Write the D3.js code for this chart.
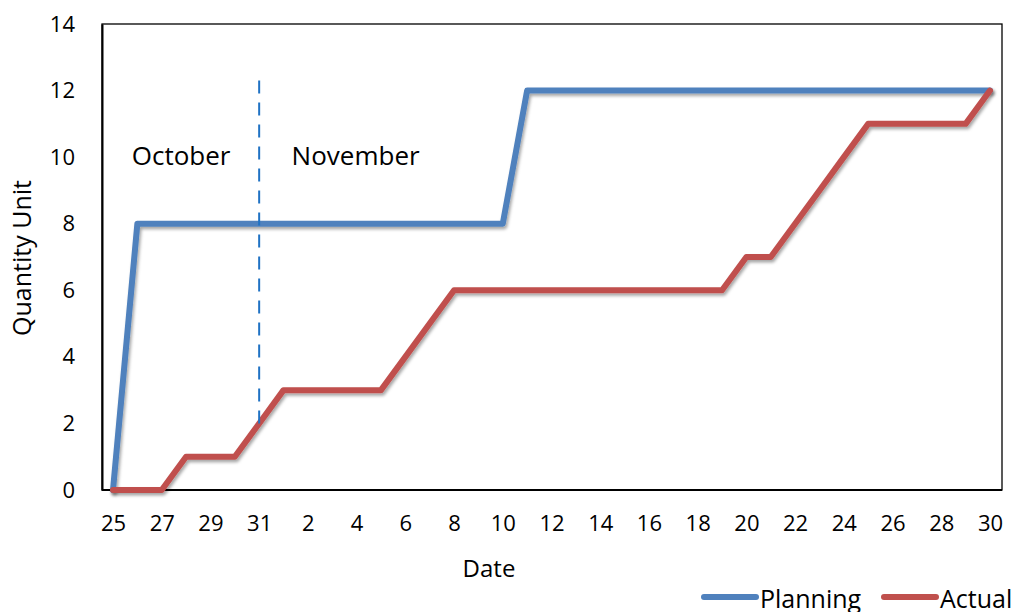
<!DOCTYPE html>
<html>
<head>
<meta charset="utf-8">
<script src="https://cdn.jsdelivr.net/npm/d3@7"></script>
<style>
  html, body { margin: 0; padding: 0; background: #fff; }
  svg { display: block; font-family: "Open Sans", "Noto Sans", sans-serif; }
</style>
</head>
<body>
<svg id="chart" width="1018" height="612"></svg>
<script>
// ---- data ----
const dates = ["10-25","10-26","10-27","10-28","10-29","10-30","10-31",
  "11-01","11-02","11-03","11-04","11-05","11-06","11-07","11-08","11-09","11-10",
  "11-11","11-12","11-13","11-14","11-15","11-16","11-17","11-18","11-19","11-20",
  "11-21","11-22","11-23","11-24","11-25","11-26","11-27","11-28","11-29","11-30"];
const planning = [0,8,8,8,8,8,8, 8,8,8,8,8,8,8,8,8,8, 12,12,12,12,12,12,12,12,12,12, 12,12,12,12,12,12,12,12,12,12];
const actual   = [0,0,0,1,1,1,2, 3,3,3,3,3,4,5,6,6,6, 6,6,6,6,6,6,6,6,6,7, 7,8,9,10,11,11,11,11,11,12];
const yTicks = [0,2,4,6,8,10,12,14];
const tickDates = dates.filter((d,i) => i % 2 === 0);
const seriesNames = ["Planning","Actual"];
const monthLabels = [{text:"October", date:"10-28", value:10}, {text:"November", date:"11-04", value:10}];
const divider = {date:"10-31", from:1.9, to:12.3};

// ---- layout ----
const box = {left:102, right:1002, top:24, bottom:490};
const colors = {Planning:"#4F81BD", Actual:"#C0504D"};

const svg = d3.select("#chart");

const defs = svg.append("defs");
const f = defs.append("filter").attr("id","shadow").attr("x","-5%").attr("y","-5%").attr("width","110%").attr("height","110%");
f.append("feDropShadow").attr("dx",1.5).attr("dy",2.5).attr("stdDeviation",1.8).attr("flood-color","#000").attr("flood-opacity",0.35);

const x = d3.scalePoint().domain(dates).range([box.left + 11, box.right - 12]);
const y = d3.scaleLinear().domain([0,14]).range([box.bottom, box.top]);

// plot border
svg.append("rect")
  .attr("x", box.left).attr("y", box.top)
  .attr("width", box.right - box.left).attr("height", box.bottom - box.top)
  .attr("fill","none").attr("stroke","#000").attr("stroke-width",1.3);

// y axis
const yAxis = svg.append("g").attr("transform",`translate(${box.left},0)`)
  .call(d3.axisLeft(y).tickValues(yTicks).tickSize(0).tickPadding(27));
yAxis.select(".domain").attr("stroke","#000").attr("stroke-width",2);
yAxis.selectAll("text").attr("font-size",22).attr("fill","#000").attr("font-family","'Open Sans', sans-serif");

// x axis
const xAxis = svg.append("g").attr("transform",`translate(0,${box.bottom})`)
  .call(d3.axisBottom(x).tickValues(tickDates).tickSize(0).tickPadding(25)
    .tickFormat(d => String(+d.split("-")[1])));
xAxis.select(".domain").attr("stroke","#000").attr("stroke-width",2).attr("d",`M${box.left},0H${box.right}`);
xAxis.selectAll("text").attr("font-size",22).attr("fill","#000").attr("font-family","'Open Sans', sans-serif");

// lines
const line = d3.line().x((d,i) => x(dates[i])).y(d => y(d));
const seriesData = {Planning: planning, Actual: actual};
seriesNames.forEach(name => {
  svg.append("path")
    .datum(seriesData[name])
    .attr("d", line)
    .attr("fill","none")
    .attr("stroke", colors[name])
    .attr("stroke-width", 6)
    .attr("stroke-linejoin","round")
    .attr("stroke-linecap","round")
    .attr("filter","url(#shadow)");
});

// divider
svg.append("line")
  .attr("x1", x(divider.date)).attr("x2", x(divider.date))
  .attr("y1", y(divider.to)).attr("y2", y(divider.from))
  .attr("stroke","#1f72c4").attr("stroke-width",2)
  .attr("stroke-dasharray","13,9");

// month labels
svg.selectAll(".month").data(monthLabels).enter().append("text")
  .attr("x", d => x(d.date))
  .attr("dx", (d,i) => i === 0 ? -5 : -1)
  .attr("y", d => y(d.value) + 8)
  .attr("text-anchor","middle")
  .attr("font-size",26).attr("fill","#000")
  .text(d => d.text);

// axis titles
svg.append("text").attr("x", 489).attr("y", 577)
  .attr("text-anchor","middle").attr("font-size",24).attr("fill","#000").text("Date");
svg.append("text").attr("transform",`translate(31,${(box.top+box.bottom)/2 + 1}) rotate(-90)`)
  .attr("text-anchor","middle").attr("font-size",25).attr("fill","#000").text("Quantity Unit");

// legend
const legendItems = [{name:"Planning", x:704}, {name:"Actual", x:884}];
const lg = svg.selectAll(".legend").data(legendItems).enter().append("g")
  .attr("transform", d => `translate(${d.x},597)`);
lg.append("line").attr("x1",0).attr("x2",52).attr("y1",0).attr("y2",0)
  .attr("stroke", d => colors[d.name]).attr("stroke-width",6).attr("stroke-linecap","round");
lg.append("text").attr("x",56).attr("y",11).attr("font-size",25).attr("fill","#000").text(d => d.name);
</script>
</body>
</html>
